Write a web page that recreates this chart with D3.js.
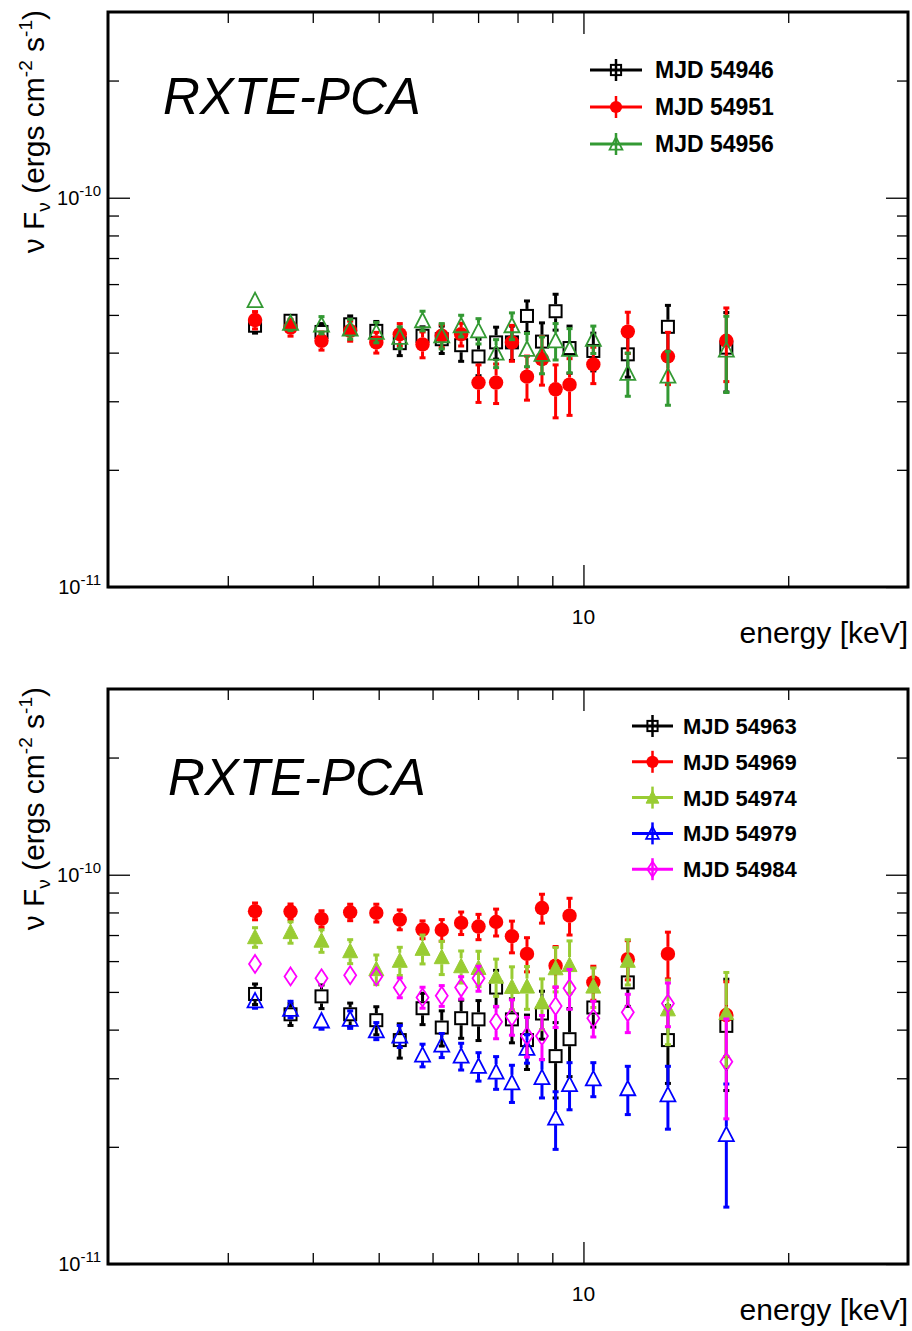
<!DOCTYPE html>
<html><head><meta charset="utf-8">
<script src="https://cdn.jsdelivr.net/npm/d3@7"></script>
<style>
body{margin:0;background:#fff}
svg{display:block}
text{font-family:"Liberation Sans",Arial,Helvetica,sans-serif;fill:#000}
</style>
</head><body>
<svg id="c" width="912" height="1331"></svg>
<script>
// ---------------- data (flux in units of 1e-11 erg cm^-2 s^-1) ----------------
const unit = 1e-11;
const energy = [3.29,3.71,4.12,4.54,4.96,5.37,5.80,6.19,6.61,7.01,7.44,7.85,8.26,8.69,9.10,9.54,10.34,11.62,13.31,16.22];

// top panel
const mjd54946    = [4.69,4.83,4.52,4.73,4.55,4.23,4.42,4.33,4.18,3.91,4.25,4.25,4.97,4.27,5.11,4.11,4.04,3.96,4.66,4.12];
const mjd54946Err = [0.20,0.19,0.23,0.24,0.26,0.30,0.24,0.35,0.38,0.42,0.40,0.43,0.46,0.50,0.54,0.57,0.45,0.50,0.63,0.95];
const mjd54951    = [4.85,4.64,4.29,4.55,4.25,4.46,4.20,4.42,4.46,3.35,3.35,4.25,3.47,3.85,3.22,3.31,3.73,4.53,3.91,4.29];
const mjd54951Err = [0.25,0.23,0.23,0.27,0.26,0.29,0.32,0.30,0.30,0.37,0.39,0.45,0.45,0.55,0.50,0.55,0.40,0.55,0.60,0.92];
const mjd54956    = [5.44,4.76,4.71,4.60,4.51,4.38,4.83,4.42,4.69,4.55,3.99,4.69,4.08,3.96,4.29,4.08,4.33,3.54,3.48,4.06];
const mjd54956Err = [0.15,0.20,0.24,0.27,0.27,0.28,0.28,0.33,0.30,0.34,0.33,0.37,0.40,0.43,0.46,0.53,0.35,0.45,0.55,0.90];

// bottom panel
const mjd54963    = [4.94,4.38,4.87,4.38,4.23,3.76,4.54,4.05,4.28,4.25,5.13,4.25,3.76,4.40,3.42,3.78,4.56,5.29,3.76,4.09];
const mjd54963Err = [0.30,0.28,0.34,0.30,0.35,0.38,0.42,0.42,0.48,0.50,0.55,0.55,0.60,0.62,0.75,0.75,0.50,0.70,0.85,1.30];
const mjd54969    = [8.06,8.04,7.70,8.01,7.98,7.67,7.23,7.21,7.52,7.36,7.56,6.95,6.26,8.21,5.84,7.85,5.29,6.07,6.26,4.36];
const mjd54969Err = [0.40,0.37,0.38,0.39,0.42,0.45,0.38,0.46,0.50,0.55,0.60,0.65,0.63,0.70,0.70,0.85,0.53,0.70,0.86,0.95];
const mjd54974    = [6.91,7.12,6.77,6.36,5.72,6.01,6.45,6.14,5.82,5.76,5.47,5.15,5.16,4.70,5.75,5.86,5.16,6.01,4.51,4.41];
const mjd54974Err = [0.40,0.45,0.45,0.45,0.50,0.50,0.55,0.60,0.55,0.60,0.60,0.65,0.65,0.70,0.75,0.90,0.60,0.80,0.85,1.20];
const mjd54979    = [4.74,4.51,4.21,4.25,3.97,3.85,3.44,3.65,3.42,3.22,3.11,2.92,3.58,3.01,2.37,2.89,2.99,2.82,2.72,2.15];
const mjd54979Err = [0.20,0.22,0.20,0.22,0.20,0.25,0.23,0.26,0.27,0.27,0.30,0.32,0.30,0.34,0.40,0.40,0.30,0.40,0.50,0.75];
const mjd54984    = [5.90,5.48,5.42,5.52,5.48,5.13,4.84,4.89,5.13,5.42,4.19,4.32,3.85,3.85,4.60,5.11,4.28,4.43,4.67,3.31];
const mjd54984Err = [0.20,0.20,0.20,0.22,0.27,0.30,0.30,0.30,0.34,0.40,0.40,0.45,0.45,0.50,0.55,0.60,0.45,0.50,0.60,0.95];

const topLabels    = ["MJD 54946","MJD 54951","MJD 54956"];
const bottomLabels = ["MJD 54963","MJD 54969","MJD 54974","MJD 54979","MJD 54984"];

const xDomain = [2, 30];
const yDomain = [1e-11, 3e-10];
const xMinorTicks = [3,4,5,6,7,8,9,20];
const xMajorTicks = [10];
const xTickLabels = ["10"];
const yMinorTicks = [2e-11,3e-11,4e-11,5e-11,6e-11,7e-11,8e-11,9e-11,2e-10];
const yMajorTicks = [1e-11, 1e-10];
const yTickExp = ["-11","-10"];
const panelTitle = "RXTE-PCA";
const xTitle = "energy [keV]";

// ---------------- drawing ----------------
const svg = d3.select("#c");
const L = 108, R = 908;

function markerShape(g, type, color, cx, cy, k) {
  k = k || 1;
  if (type === "square") {
    g.append("rect").attr("x", cx-6*k).attr("y", cy-6*k).attr("width", 12*k).attr("height", 12*k)
      .attr("fill", "none").attr("stroke", color).attr("stroke-width", 2);
  } else if (type === "circle") {
    g.append("circle").attr("cx", cx).attr("cy", cy).attr("r", 7.2*k).attr("fill", color);
  } else if (type === "tri" || type === "trifill") {
    const p = [[cx, cy-8*k],[cx-7.5*k, cy+6.5*k],[cx+7.5*k, cy+6.5*k]];
    g.append("path").attr("d", "M"+p.map(q=>q.join(",")).join("L")+"Z")
      .attr("fill", type === "trifill" ? color : "none").attr("stroke", color).attr("stroke-width", type==="trifill"?1:1.8);
  } else if (type === "diamond") {
    const p = [[cx, cy-9*k],[cx+6*k, cy],[cx, cy+9*k],[cx-6*k, cy]];
    g.append("path").attr("d", "M"+p.map(q=>q.join(",")).join("L")+"Z")
      .attr("fill", "none").attr("stroke", color).attr("stroke-width", 1.8);
  }
}
const halfUp   = {square:7, circle:7, tri:8, trifill:8, diamond:9};
const halfDown = {square:7, circle:7, tri:7, trifill:7, diamond:9};

function drawPanel(top, series, labels, legendPos) {
  const bottom = top + 575;
  const x = d3.scaleLog().domain(xDomain).range([L, R]);
  const y = d3.scaleLog().domain(yDomain).range([bottom, top]);
  const g = svg.append("g");

  // ticks via d3 axes (inward)
  g.append("g").attr("transform", `translate(0,${bottom})`)
    .call(d3.axisBottom(x).tickValues(xMinorTicks).tickSize(-11).tickFormat(""));
  g.append("g").attr("transform", `translate(0,${bottom})`)
    .call(d3.axisBottom(x).tickValues(xMajorTicks).tickSize(-22).tickFormat(""));
  g.append("g").attr("transform", `translate(0,${top})`)
    .call(d3.axisTop(x).tickValues(xMinorTicks).tickSize(-11).tickFormat(""));
  g.append("g").attr("transform", `translate(0,${top})`)
    .call(d3.axisTop(x).tickValues(xMajorTicks).tickSize(-22).tickFormat(""));
  g.append("g").attr("transform", `translate(${L},0)`)
    .call(d3.axisLeft(y).tickValues(yMinorTicks).tickSize(-11).tickFormat(""));
  g.append("g").attr("transform", `translate(${L},0)`)
    .call(d3.axisLeft(y).tickValues(yMajorTicks).tickSize(-22).tickFormat(""));
  g.append("g").attr("transform", `translate(${R},0)`)
    .call(d3.axisRight(y).tickValues(yMinorTicks).tickSize(-11).tickFormat(""));
  g.append("g").attr("transform", `translate(${R},0)`)
    .call(d3.axisRight(y).tickValues(yMajorTicks).tickSize(-22).tickFormat(""));
  g.selectAll(".domain").remove();
  g.selectAll(".tick line").attr("stroke", "#000").attr("stroke-width", 1.3);

  // frame
  g.append("rect").attr("x", L).attr("y", top).attr("width", R-L).attr("height", bottom-top)
    .attr("fill", "none").attr("stroke", "#000").attr("stroke-width", 3);

  // tick labels
  xMajorTicks.forEach((v,i) => {
    g.append("text").attr("x", x(v)).attr("y", bottom+37).attr("text-anchor","middle")
      .attr("font-size", 21).text(xTickLabels[i]);
  });
  yMajorTicks.forEach((v,i) => {
    const t = g.append("text").attr("x", L-7).attr("y", y(v)+7).attr("text-anchor","end").attr("font-size", 20);
    t.append("tspan").text("10");
    t.append("tspan").attr("dy", -9).attr("font-size", 15).text(yTickExp[i]);
  });

  // axis titles
  g.append("text").attr("x", R).attr("y", bottom+56).attr("text-anchor","end")
    .attr("font-size", 30).text(xTitle);
  const yt = g.append("text").attr("transform", `translate(44,${top-2}) rotate(-90)`)
    .attr("text-anchor","end").attr("font-size", 30);
  yt.append("tspan").text("ν F");
  yt.append("tspan").attr("dy", 6).attr("font-size", 19).text("ν");
  yt.append("tspan").attr("dy", -6).text(" (ergs cm");
  yt.append("tspan").attr("dy", -12).attr("font-size", 19).text("-2");
  yt.append("tspan").attr("dy", 12).text(" s");
  yt.append("tspan").attr("dy", -12).attr("font-size", 19).text("-1");
  yt.append("tspan").attr("dy", 12).text(")");

  // panel title
  g.append("text").attr("x", legendPos.tx).attr("y", top + legendPos.ty).attr("font-size", 51)
    .attr("font-style","italic").text(panelTitle);

  // data
  series.forEach(s => {
    const sg = g.append("g");
    energy.forEach((e, i) => {
      const cx = x(e), cy = y(s.v[i]*unit);
      const yHi = y((s.v[i]+s.e[i])*unit), yLo = y((s.v[i]-s.e[i])*unit);
      if (yHi < cy - halfUp[s.m]) {
        sg.append("line").attr("x1",cx).attr("x2",cx).attr("y1",cy-halfUp[s.m]).attr("y2",yHi)
          .attr("stroke", s.c).attr("stroke-width", 3);
        sg.append("rect").attr("x",cx-3).attr("y",yHi-1.5).attr("width",6).attr("height",3).attr("fill",s.c);
      }
      if (yLo > cy + halfDown[s.m]) {
        sg.append("line").attr("x1",cx).attr("x2",cx).attr("y1",cy+halfDown[s.m]).attr("y2",yLo)
          .attr("stroke", s.c).attr("stroke-width", 3);
        sg.append("rect").attr("x",cx-3).attr("y",yLo-1.5).attr("width",6).attr("height",3).attr("fill",s.c);
      }
      markerShape(sg, s.m, s.c, cx, cy, 1);
    });
  });

  // legend
  series.forEach((s, i) => {
    const ly = top + legendPos.y0 + i*legendPos.dy;
    const lg = g.append("g");
    lg.append("line").attr("x1", legendPos.x1).attr("x2", legendPos.x2).attr("y1", ly).attr("y2", ly)
      .attr("stroke", s.c).attr("stroke-width", 3);
    const mx = (legendPos.x1 + legendPos.x2)/2;
    lg.append("line").attr("x1", mx).attr("x2", mx).attr("y1", ly-11).attr("y2", ly+11)
      .attr("stroke", s.c).attr("stroke-width", 2.5);
    markerShape(lg, s.m, s.c, mx, ly, 0.85);
    lg.append("text").attr("x", legendPos.tx2).attr("y", ly+8).attr("font-size", legendPos.fs)
      .attr("font-weight","bold").text(labels[i]);
  });
}

drawPanel(12, [
  {v: mjd54946, e: mjd54946Err, c: "#000000", m: "square"},
  {v: mjd54951, e: mjd54951Err, c: "#ff0000", m: "circle"},
  {v: mjd54956, e: mjd54956Err, c: "#339933", m: "tri"}
], topLabels, {x1: 590, x2: 642, y0: 58, dy: 37, tx2: 655, fs: 23, tx: 163, ty: 102});

drawPanel(689, [
  {v: mjd54963, e: mjd54963Err, c: "#000000", m: "square"},
  {v: mjd54969, e: mjd54969Err, c: "#ff0000", m: "circle"},
  {v: mjd54974, e: mjd54974Err, c: "#99cc33", m: "trifill"},
  {v: mjd54979, e: mjd54979Err, c: "#0000ff", m: "tri"},
  {v: mjd54984, e: mjd54984Err, c: "#ff00ff", m: "diamond"}
], bottomLabels, {x1: 632, x2: 673, y0: 37, dy: 35.8, tx2: 683, fs: 22, tx: 168, ty: 106});
</script>
</body></html>
